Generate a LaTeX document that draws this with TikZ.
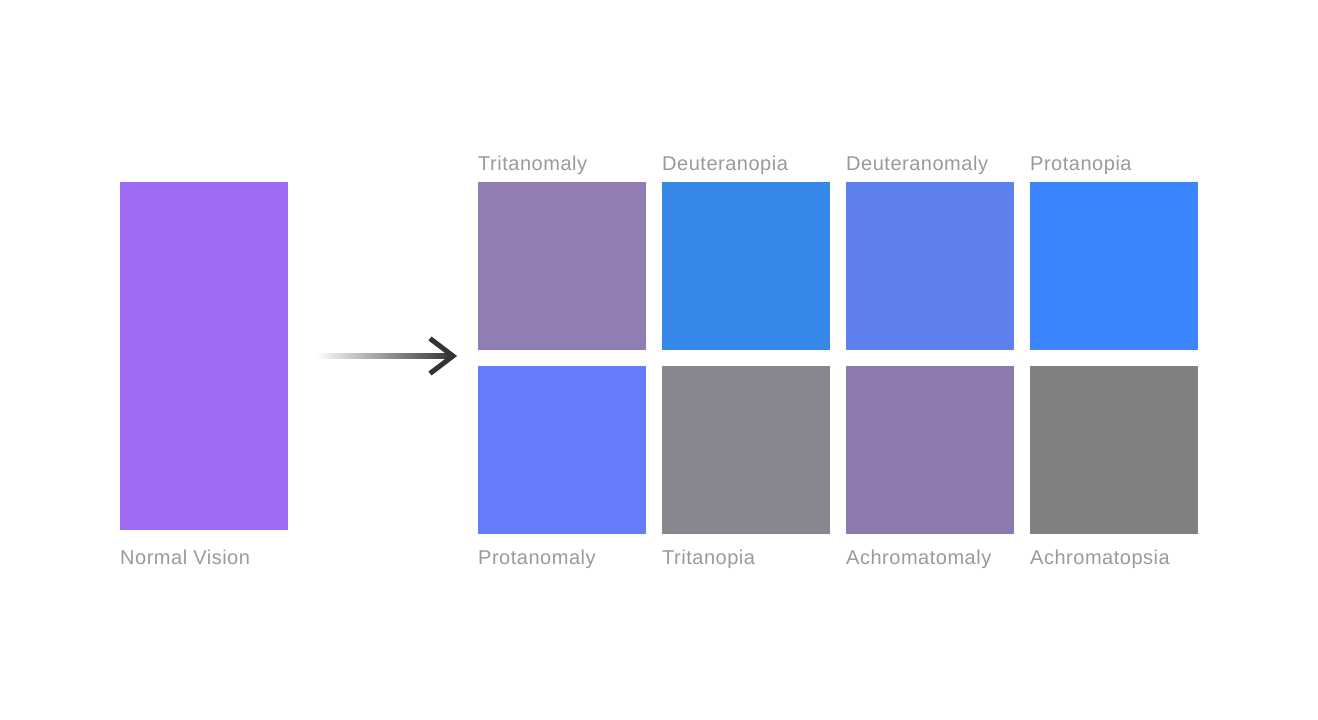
\documentclass[tikz,border=0pt]{standalone}
\usepackage{fontspec}
\setmainfont{Liberation Sans}[LetterSpace=2.6]
\usetikzlibrary{calc}
\definecolor{cNormal}{HTML}{A06BF4}
\definecolor{cTriAnom}{HTML}{917DB3}
\definecolor{cDeutOp}{HTML}{3588E8}
\definecolor{cDeutAnom}{HTML}{5D80EC}
\definecolor{cProtOp}{HTML}{3D84FF}
\definecolor{cProtAnom}{HTML}{647CFA}
\definecolor{cTriOp}{HTML}{88868F}
\definecolor{cAchrAnom}{HTML}{8D79AD}
\definecolor{cAchrOp}{HTML}{808080}
\definecolor{labelgray}{HTML}{9A9A9A}
\definecolor{arrowdark}{HTML}{333333}
\begin{document}
\begin{tikzpicture}[x=1pt,y=-1pt,
  swatch/.style={fill=#1,draw=none},
  lbl/.style={anchor=base west,inner sep=0pt,text=labelgray,font=\fontsize{20}{24}\selectfont}]
\useasboundingbox[fill=white] (0,0) rectangle (1318,720);
% normal vision
\fill[cNormal] (120,182) rectangle (288,530);
\node[lbl] (lnormal) at (120,564) {Normal Vision};
% arrow
\coordinate (as) at (315,356);
\coordinate (ae) at (452,356);
\shade[left color=white,right color=arrowdark] ($(as)+(0,-2.5)$) rectangle ($(ae)+(0,2.5)$);
\draw[arrowdark,line width=5pt,miter limit=10] (430,338.5) -- (453,356) -- (430,373.5);
% grid
\foreach \x/\c/\t in {478/cTriAnom/Tritanomaly,662/cDeutOp/Deuteranopia,846/cDeutAnom/Deuteranomaly,1030/cProtOp/Protanopia}{
  \fill[\c] (\x,182) rectangle ++(168,168);
  \node[lbl] at (\x,170) {\t};
}
\foreach \x/\c/\t in {478/cProtAnom/Protanomaly,662/cTriOp/Tritanopia,846/cAchrAnom/Achromatomaly,1030/cAchrOp/Achromatopsia}{
  \fill[\c] (\x,366) rectangle ++(168,168);
  \node[lbl] at (\x,564) {\t};
}
\end{tikzpicture}
\end{document}
